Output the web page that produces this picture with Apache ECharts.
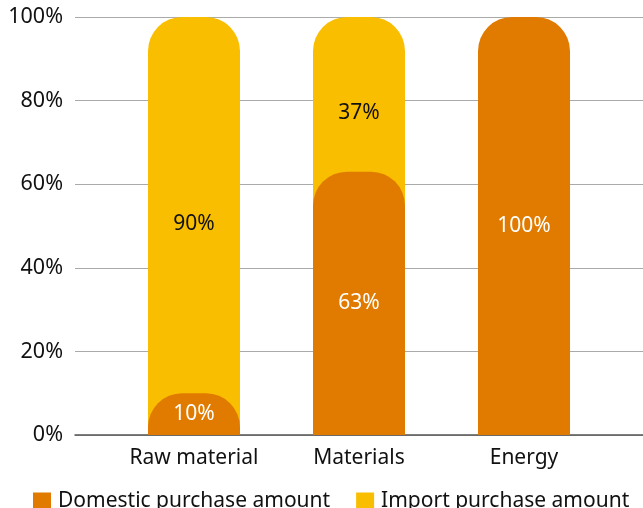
<!DOCTYPE html>
<html>
<head>
<meta charset="utf-8">
<script src="https://cdn.jsdelivr.net/npm/echarts@6/dist/echarts.min.js"></script>
<style>
  html, body { margin: 0; padding: 0; background: #fff; }
  #chart { width: 643px; height: 508px; }
</style>
</head>
<body>
<div id="chart"></div>
<script>
// Purchase mix by category, in percent
const categories = ['Raw material', 'Materials', 'Energy'];
const domestic = [10, 63, 100];
const imported = [90, 37, 0];
const yTicks = [0, 20, 40, 60, 80, 100];

const ORANGE = '#E07B00';
const YELLOW = '#F9BE00';
const FONT = '"Noto Sans", sans-serif';
// The import bar starts a little below the domestic top so it fills in
// behind the domestic bar's rounded corners.
const OVERLAP = 9;

const importBase = domestic.map((d, i) => imported[i] > 0 ? Math.max(0, d - OVERLAP) : 0);
const importSpan = domestic.map((d, i) => imported[i] > 0 ? (d + imported[i]) - importBase[i] : 0);

const chart = echarts.init(document.getElementById('chart'), null, { renderer: 'canvas' });

chart.setOption({
  animation: false,
  textStyle: { fontFamily: FONT },
  grid: [
    { left: 75, right: 0, top: 17, bottom: 73 },
    { left: 111.5, width: 495, top: 17, bottom: 73 }
  ],
  xAxis: [
    {
      gridIndex: 0, type: 'category', data: [''],
      axisLine: { show: true, lineStyle: { color: '#555', width: 1.5 } },
      axisTick: { show: false }, axisLabel: { show: false }
    },
    {
      gridIndex: 1, type: 'category', data: categories,
      axisLine: { show: false }, axisTick: { show: false },
      axisLabel: { color: '#111', fontSize: 21, margin: 13, interval: 0, fontFamily: FONT }
    }
  ],
  yAxis: [
    {
      gridIndex: 0, type: 'value', min: 0, max: 100, interval: 20,
      axisLine: { show: false }, axisTick: { show: false },
      axisLabel: {
        color: '#111', fontSize: 21.5, margin: 12, fontFamily: FONT,
        formatter: v => yTicks.includes(v) ? v + '%' : ''
      },
      splitLine: { lineStyle: { color: '#aaaaaa', width: 1 } }
    },
    {
      gridIndex: 1, type: 'value', min: 0, max: 100, interval: 20,
      show: false, splitLine: { show: false }
    }
  ],
  legend: {
    data: ['Domestic purchase amount', 'Import purchase amount'],
    left: 28, top: 486,
    icon: 'rect', itemWidth: 18, itemHeight: 18, itemGap: 26,
    textStyle: { fontSize: 21, color: '#111', fontFamily: FONT, padding: [0, 0, 0, 2] }
  },
  series: [
    {
      name: 'base', type: 'bar', stack: 'imp',
      xAxisIndex: 1, yAxisIndex: 1,
      data: importBase, barWidth: 92,
      itemStyle: { color: 'rgba(0,0,0,0)' },
      silent: true, z: 1
    },
    {
      name: 'Import purchase amount', type: 'bar', stack: 'imp',
      xAxisIndex: 1, yAxisIndex: 1,
      data: importSpan.map((v, i) => ({ value: v, pct: imported[i] })),
      barWidth: 92, barGap: '-100%',
      itemStyle: { color: YELLOW, borderRadius: [34, 34, 0, 0] },
      label: {
        show: true, position: 'inside', fontSize: 21, color: '#111', fontFamily: FONT,
        formatter: p => p.data.pct > 0 ? p.data.pct + '%' : ''
      },
      z: 2
    },
    {
      name: 'Domestic purchase amount', type: 'bar',
      xAxisIndex: 1, yAxisIndex: 1,
      data: domestic, barWidth: 92, barGap: '-100%',
      itemStyle: { color: ORANGE, borderRadius: [34, 34, 0, 0] },
      label: {
        show: true, position: 'inside', fontSize: 21, color: '#ffffff', fontFamily: FONT,
        formatter: p => p.value + '%'
      },
      z: 3
    }
  ]
});
</script>
</body>
</html>
